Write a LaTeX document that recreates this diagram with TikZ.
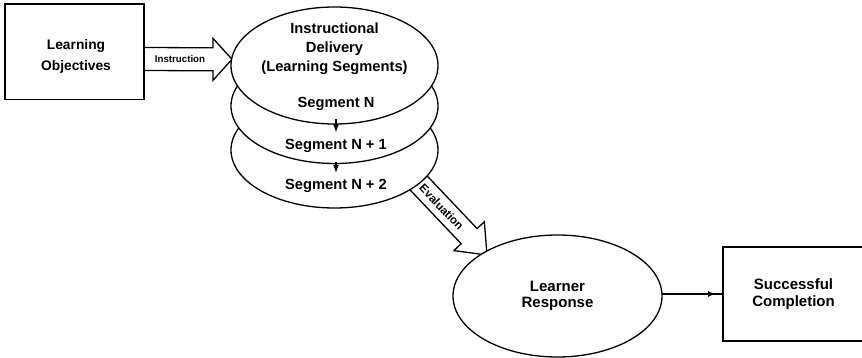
\documentclass[tikz,border=0pt]{standalone}
\usepackage{fontspec}
\setmainfont{Liberation Sans}
\usetikzlibrary{arrows.meta,shapes.geometric,decorations.markings,calc,backgrounds}
\begin{document}
\begin{tikzpicture}[x=1pt,y=-1pt,line width=1.3pt,
  txt/.style={font=\fontsize{14.7}{19}\selectfont\bfseries,align=center,inner sep=0pt},
  disc/.style={draw,ellipse,fill=white,minimum width=207pt,minimum height=116pt,inner sep=0pt,outer sep=0pt},
  frame/.style={draw,rectangle,inner sep=0pt,outer sep=0pt},
  blockarrow/.style={draw=black,fill=white,line width=1.3pt,line join=miter},
  segarrow/.style={-{Latex[length=8pt,width=6pt]},line width=1.2pt,shorten <=8.5pt,shorten >=6pt},
  smalllabel/.style={font=\fontsize{9.7}{11}\selectfont\bfseries,inner sep=0pt}
]
\useasboundingbox (0,0) rectangle (862,358);

% boxes
\node[frame,minimum width=139pt,minimum height=95.3pt] (lo) at (74.5,51.7) {};
\node[txt,font=\fontsize{13.8}{20.7}\selectfont\bfseries] (lotxt) at (76,56.7) {Learning\\Objectives};

% stacked ellipses
\node[disc,minimum height=116pt] (ellc) at (334.5,150) {};
\node[disc,minimum height=115pt] (ellb) at (334.5,106) {};
\node[disc,minimum height=117pt] (ella) at (334.5,65.5) {};

\node[txt] (inst) at (334.5,48.5) {Instructional\\Delivery\\(Learning Segments)};
\node[txt] (segn) at (336,103.5) {Segment N};
\node[txt] (segn1) at (336,145.7) {Segment N + 1};
\node[txt] (segn2) at (336,186.2) {Segment N + 2};
\draw[segarrow] (segn) -- (segn1);
\draw[segarrow] (segn1) -- (segn2);

% learner response and completion
\node[draw,ellipse,fill=white,minimum width=209pt,minimum height=122pt,inner sep=0pt,outer sep=0pt,
      font=\fontsize{15}{16.5}\selectfont\bfseries,align=center] (lr) at (557.5,296) {Learner\\Response};
\node[frame,minimum width=141pt,minimum height=94pt,font=\fontsize{15}{16.8}\selectfont\bfseries,align=center] (sc) at (793.5,294) {Successful\\Completion};
\draw[line width=1.2pt,postaction={decorate},
      decoration={markings,mark=at position 0.87 with {\arrow{Latex[length=7pt,width=6pt]}}}]
  (lr.east |- sc.west) -- (sc.west);

% block arrows behind the ellipses
\coordinate (is) at ($(lo.east)+(0,7.3)$);
\coordinate (it) at ($(ella.west)+(1,-6.2)$);
\coordinate (etip) at ($(lr.150)+(3.8,1.9)$);
\begin{pgfonlayer}{background}
\draw[blockarrow] ($(is)+(0,-11.5)$) -- ($(it)+(-19,-11.5)$) -- ($(it)+(-19,-21)$) -- (it)
  -- ($(it)+(-19,21)$) -- ($(it)+(-19,11.5)$) -- ($(is)+(0,11.5)$);
\begin{scope}[shift={(etip)},rotate=-46.5]
\draw[blockarrow] (-120,11) -- (-26,11) -- (-26,21) -- (0,0) -- (-26,-21) -- (-26,-11) -- (-120,-11) -- cycle;
\node[rotate=-46.5,font=\fontsize{11.5}{12}\selectfont\bfseries,inner sep=0pt] (evl) at (-66,0) {Evaluation};
\end{scope}
\end{pgfonlayer}
\node[smalllabel] (ins) at ($(is)+(36,0)$) {Instruction};
\end{tikzpicture}
\end{document}
